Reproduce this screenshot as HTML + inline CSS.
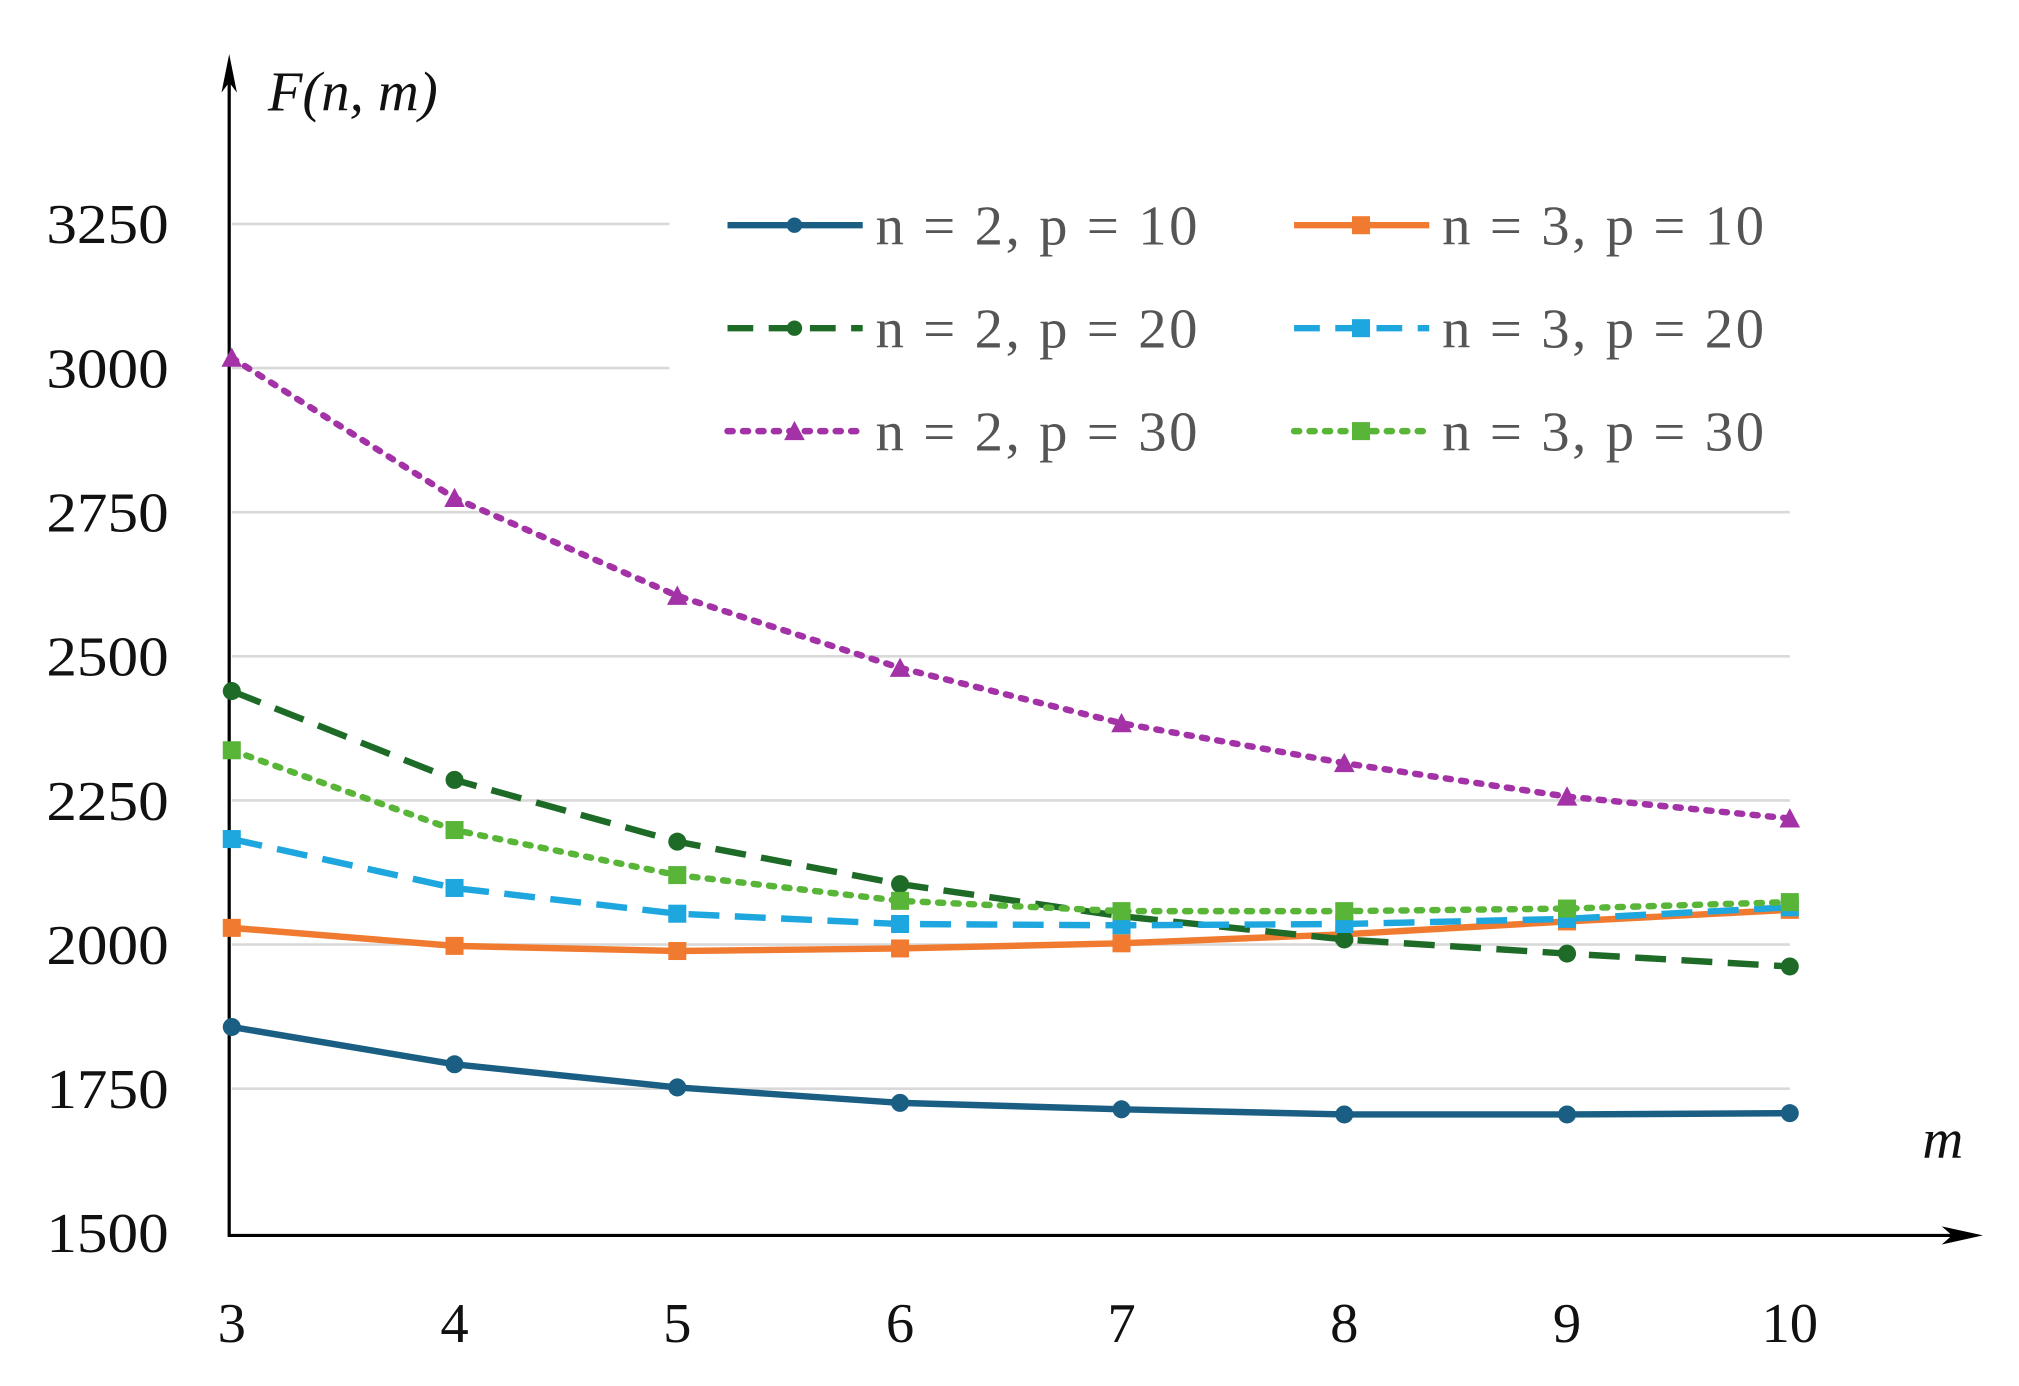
<!DOCTYPE html>
<html><head><style>html,body{margin:0;padding:0;background:#fff}svg{display:block}</style></head><body>
<svg width="2019" height="1386" viewBox="0 0 1568 1077" preserveAspectRatio="none" xmlns="http://www.w3.org/2000/svg" font-family="Liberation Serif, serif">
<g stroke="#d9d9d9" stroke-width="2">
<line x1="180" y1="174" x2="520" y2="174"/><line x1="180" y1="286" x2="520" y2="286"/>
<line x1="180" y1="398" x2="1390" y2="398"/><line x1="180" y1="510" x2="1390" y2="510"/>
<line x1="180" y1="622" x2="1390" y2="622"/><line x1="180" y1="734" x2="1390" y2="734"/>
<line x1="180" y1="846" x2="1390" y2="846"/>
</g>
<g stroke="#000" stroke-width="2.5" fill="none">
<line x1="178" y1="961" x2="178" y2="50"/><line x1="177" y1="960" x2="1530" y2="960"/>
</g>
<polygon points="178,42 172,72 178,64 184,72" fill="#000"/>
<polygon points="1540,960 1508,953 1516,960 1508,967" fill="#000"/>
<g font-size="44" fill="#111">
<text x="36" y="189" textLength="95" lengthAdjust="spacingAndGlyphs">3250</text><text x="36" y="301" textLength="95" lengthAdjust="spacingAndGlyphs">3000</text><text x="36" y="413" textLength="95" lengthAdjust="spacingAndGlyphs">2750</text>
<text x="36" y="525" textLength="95" lengthAdjust="spacingAndGlyphs">2500</text><text x="36" y="637" textLength="95" lengthAdjust="spacingAndGlyphs">2250</text><text x="36" y="749" textLength="95" lengthAdjust="spacingAndGlyphs">2000</text>
<text x="36" y="861" textLength="95" lengthAdjust="spacingAndGlyphs">1750</text><text x="36" y="973" textLength="95" lengthAdjust="spacingAndGlyphs">1500</text>
</g>
<g font-size="44" fill="#111" text-anchor="middle">
<text x="180" y="1043">3</text><text x="353" y="1043">4</text><text x="526" y="1043">5</text><text x="699" y="1043">6</text>
<text x="871" y="1043">7</text><text x="1044" y="1043">8</text><text x="1217" y="1043">9</text><text x="1390" y="1043">10</text>
</g>
<text x="208" y="86" font-size="44" font-style="italic" fill="#111">F(n, m)</text>
<text x="1493" y="900" font-size="44" font-style="italic" fill="#111">m</text>
<polyline fill="none" stroke="#1a5e83" stroke-width="5" points="180,798 353,827 526,845 699,857 871,862 1044,866 1217,866 1390,865"/>
<g fill="#1a5e83"><circle cx="180" cy="798" r="7"/><circle cx="353" cy="827" r="7"/><circle cx="526" cy="845" r="7"/><circle cx="699" cy="857" r="7"/><circle cx="871" cy="862" r="7"/><circle cx="1044" cy="866" r="7"/><circle cx="1217" cy="866" r="7"/><circle cx="1390" cy="865" r="7"/></g>
<polyline fill="none" stroke="#f07b30" stroke-width="5" points="180,721 353,735 526,739 699,737 871,733 1044,726 1217,716 1390,707"/>
<g fill="#f07b30"><rect x="173" y="714" width="14" height="14"/><rect x="346" y="728" width="14" height="14"/><rect x="519" y="732" width="14" height="14"/><rect x="692" y="730" width="14" height="14"/><rect x="864" y="726" width="14" height="14"/><rect x="1037" y="719" width="14" height="14"/><rect x="1210" y="709" width="14" height="14"/><rect x="1383" y="700" width="14" height="14"/></g>
<polyline fill="none" stroke="#1e6b27" stroke-width="5" stroke-dasharray="24,12" points="180,537 353,606 526,654 699,687 871,712 1044,730 1217,741 1390,751"/>
<g fill="#1e6b27"><circle cx="180" cy="537" r="7"/><circle cx="353" cy="606" r="7"/><circle cx="526" cy="654" r="7"/><circle cx="699" cy="687" r="7"/><circle cx="871" cy="712" r="7"/><circle cx="1044" cy="730" r="7"/><circle cx="1217" cy="741" r="7"/><circle cx="1390" cy="751" r="7"/></g>
<polyline fill="none" stroke="#1ea6df" stroke-width="5" stroke-dasharray="24,12" points="180,652 353,690 526,710 699,718 871,719 1044,718 1217,714 1390,705"/>
<g fill="#1ea6df"><rect x="173" y="645" width="14" height="14"/><rect x="346" y="683" width="14" height="14"/><rect x="519" y="703" width="14" height="14"/><rect x="692" y="711" width="14" height="14"/><rect x="864" y="712" width="14" height="14"/><rect x="1037" y="711" width="14" height="14"/><rect x="1210" y="707" width="14" height="14"/><rect x="1383" y="698" width="14" height="14"/></g>
<polyline fill="none" stroke="#a332a7" stroke-width="5" stroke-dasharray="4,8" stroke-linecap="round" points="180,278 353,387 526,463 699,519 871,562 1044,593 1217,619 1390,636"/>
<g fill="#a332a7"><polygon points="180,270 188,285 172,285"/><polygon points="353,379 361,394 345,394"/><polygon points="526,455 534,470 518,470"/><polygon points="699,511 707,526 691,526"/><polygon points="871,554 879,569 863,569"/><polygon points="1044,585 1052,600 1036,600"/><polygon points="1217,611 1225,626 1209,626"/><polygon points="1390,628 1398,643 1382,643"/></g>
<polyline fill="none" stroke="#58b537" stroke-width="5" stroke-dasharray="4,8" stroke-linecap="round" points="180,583 353,645 526,680 699,700 871,708 1044,708 1217,706 1390,701"/>
<g fill="#58b537"><rect x="173" y="576" width="14" height="14"/><rect x="346" y="638" width="14" height="14"/><rect x="519" y="673" width="14" height="14"/><rect x="692" y="693" width="14" height="14"/><rect x="864" y="701" width="14" height="14"/><rect x="1037" y="701" width="14" height="14"/><rect x="1210" y="699" width="14" height="14"/><rect x="1383" y="694" width="14" height="14"/></g>
<line x1="565" y1="175" x2="670" y2="175" stroke="#1a5e83" stroke-width="5"/><circle cx="617" cy="175" r="6" fill="#1a5e83"/>
<line x1="565" y1="255" x2="670" y2="255" stroke="#1e6b27" stroke-width="5" stroke-dasharray="20,12"/><circle cx="617" cy="255" r="6" fill="#1e6b27"/>
<line x1="565" y1="335" x2="670" y2="335" stroke="#a332a7" stroke-width="5" stroke-dasharray="4,8" stroke-linecap="round"/><polygon points="617,327 625,342 609,342" fill="#a332a7"/>
<line x1="1005" y1="175" x2="1110" y2="175" stroke="#f07b30" stroke-width="5"/><rect x="1050" y="168" width="14" height="14" fill="#f07b30"/>
<line x1="1005" y1="255" x2="1110" y2="255" stroke="#1ea6df" stroke-width="5" stroke-dasharray="20,12"/><rect x="1050" y="248" width="14" height="14" fill="#1ea6df"/>
<line x1="1005" y1="335" x2="1110" y2="335" stroke="#58b537" stroke-width="5" stroke-dasharray="4,8" stroke-linecap="round"/><rect x="1050" y="328" width="14" height="14" fill="#58b537"/>
<g font-size="44" fill="#555">
<text x="680" y="190" textLength="250">n = 2, p = 10</text><text x="680" y="270" textLength="250">n = 2, p = 20</text><text x="680" y="350" textLength="250">n = 2, p = 30</text>
<text x="1120" y="190" textLength="250">n = 3, p = 10</text><text x="1120" y="270" textLength="250">n = 3, p = 20</text><text x="1120" y="350" textLength="250">n = 3, p = 30</text>
</g>
</svg>
</body></html>
